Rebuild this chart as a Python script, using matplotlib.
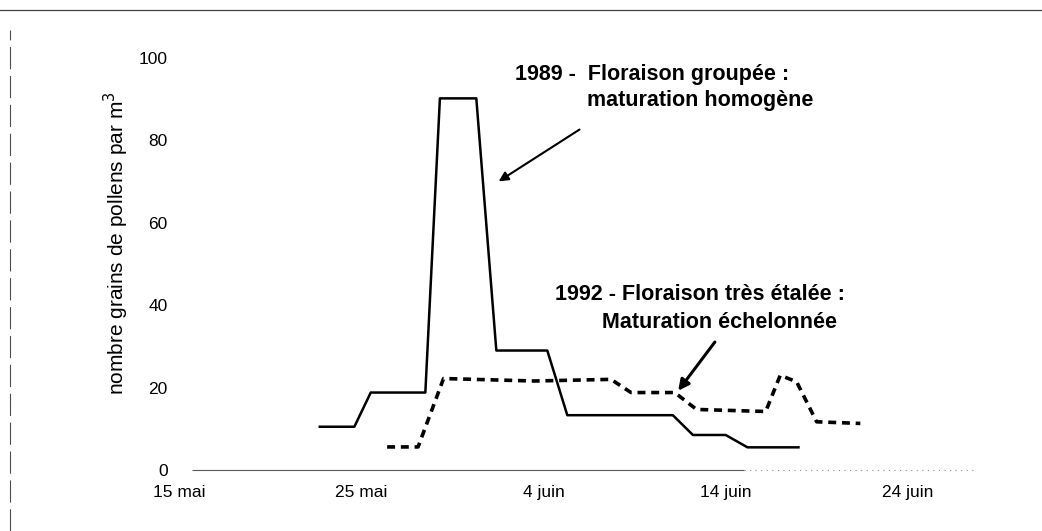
import matplotlib
matplotlib.use('Agg')
import matplotlib.pyplot as plt
from matplotlib.lines import Line2D

# ── Data (days counted from 15 mai) ────────────────────────────────────────
days_1989 = [7.7, 9.6, 10.5, 13.5, 14.3, 16.3, 17.4, 20.2, 21.3, 27.1, 28.2, 30.0, 31.2, 34.0]
pollen_1989 = [10.5, 10.5, 18.8, 18.8, 90.2, 90.2, 29.0, 29.0, 13.3, 13.3, 8.5, 8.5, 5.5, 5.5]

days_1992 = [11.4, 13.1, 14.5, 19.5, 23.7, 24.8, 27.2, 28.4, 32.2, 33.0, 33.9, 35.0, 37.4]
pollen_1992 = [5.6, 5.6, 22.2, 21.6, 22.0, 18.8, 18.8, 14.7, 14.2, 23.0, 21.4, 11.7, 11.3]

tick_days = [0, 10, 20, 30, 40]
tick_labels = ['15 mai', '25 mai', '4 juin', '14 juin', '24 juin']
y_ticks = [0, 20, 40, 60, 80, 100]

# ── Style ──────────────────────────────────────────────────────────────────
TEXT_FONT = ['Liberation Sans', 'DejaVu Sans']
TICK_SIZE = 12.5
NOTE_SIZE = 15.5
plt.rcParams['font.family'] = TEXT_FONT

fig = plt.figure(figsize=(10.42, 5.31), dpi=100)
W, H = 1042, 531
left, right, top, bottom = 176, 975, 58, 470
ax = fig.add_axes([left / W, 1 - bottom / H, (right - left) / W, (bottom - top) / H])

ax.plot(days_1989, pollen_1989, color='black', lw=1.8, clip_on=False)
ax.plot(days_1992, pollen_1992, color='black', lw=2.6,
        linestyle=(0, (2.2, 1.6)), clip_on=False)

ax.set_xlim(-0.2, 43.7)
ax.set_ylim(0, 100)
for s in ax.spines.values():
    s.set_visible(False)

# faint scanned x axis
ax.hlines(0, 0.7, 31, color='0.35', lw=0.8, clip_on=False)
ax.hlines(0, 31, 43.7, color='0.55', lw=0.8, linestyle=(0, (1, 4)), clip_on=False)

ax.set_xticks(tick_days)
ax.set_xticklabels(tick_labels, fontsize=TICK_SIZE)
ax.set_yticks(y_ticks)
ax.set_yticklabels([str(v) for v in y_ticks], fontsize=TICK_SIZE)
ax.tick_params(axis='x', length=0, pad=11)
ax.tick_params(axis='y', length=0, pad=6)

ax.set_ylabel('nombre grains de pollens par m$^3$', fontsize=15)
ax.yaxis.set_label_coords(-0.056, 0.55)

# ── Annotations ────────────────────────────────────────────────────────────
ax.text(18.4, 95.9, '1989 -  Floraison groupée :', fontsize=NOTE_SIZE,
        fontweight='bold', ha='left', va='center')
ax.text(22.4, 89.8, 'maturation homogène', fontsize=NOTE_SIZE,
        fontweight='bold', ha='left', va='center')
ax.annotate('', xy=(17.4, 69.7), xytext=(22.1, 83.0),
            arrowprops=dict(arrowstyle='-|>', color='black', lw=1.5,
                            mutation_scale=14))

ax.text(20.6, 42.5, '1992 - Floraison très étalée :', fontsize=NOTE_SIZE,
        fontweight='bold', ha='left', va='center')
ax.text(23.2, 35.9, 'Maturation échelonnée', fontsize=NOTE_SIZE,
        fontweight='bold', ha='left', va='center')
ax.annotate('', xy=(27.3, 18.7), xytext=(29.5, 31.6),
            arrowprops=dict(arrowstyle='-|>', color='black', lw=2.2,
                            mutation_scale=16))

# scanned page frame
fig.add_artist(Line2D([0, 1], [1 - 10 / H, 1 - 10 / H], color='0.25', lw=0.9))
fig.add_artist(Line2D([10 / W, 10 / W], [0, 1 - 30 / H], color='0.3', lw=0.8,
                      linestyle=(0, (20, 6))))

fig.savefig('out.png', dpi=100)
